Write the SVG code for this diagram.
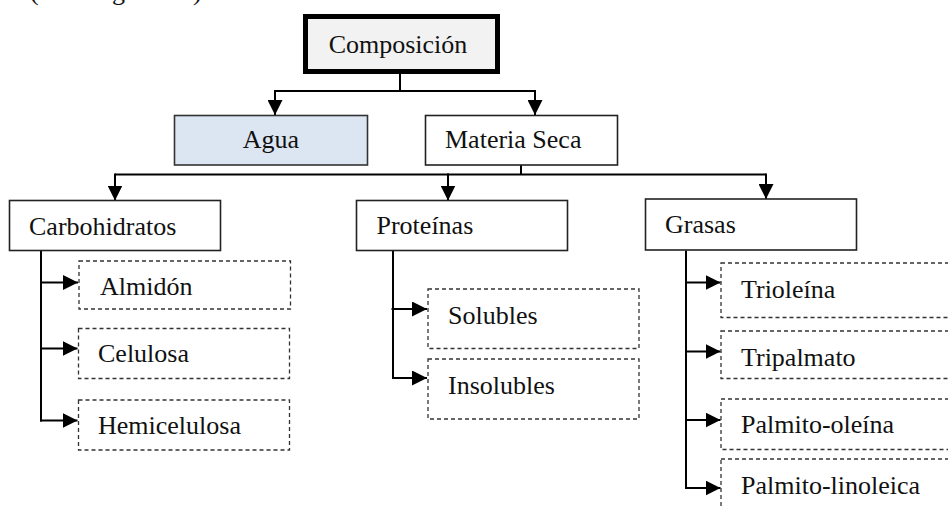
<svg xmlns="http://www.w3.org/2000/svg" width="948" height="506" viewBox="0 0 948 506">
<style>
text{font-family:'Liberation Serif','Times New Roman','DejaVu Serif',serif;font-size:26px;fill:#111}
.box{fill:#fff;stroke:#222;stroke-width:1.6}
.dash{fill:#fff;stroke:#333;stroke-width:1.3;stroke-dasharray:4 3}
.c{fill:none;stroke:#000;stroke-width:2}
.m{text-anchor:middle}
</style>
<defs>
<marker id="ah" viewBox="0 0 15 15" markerWidth="15" markerHeight="15" refX="15" refY="7.5" orient="auto" markerUnits="userSpaceOnUse">
<path d="M0,0 L15,7.5 L0,15 z" fill="#000"/>
</marker>
</defs>
<text id="frag" y="-0.5" font-family="Liberation Serif"><tspan x="30">(</tspan><tspan x="112">g</tspan><tspan x="193">)</tspan></text>
<g id="connectors">
<path class="c" d="M400,74 V91 M275,91 H535"/>
<path class="c" d="M275,90 V115" marker-end="url(#ah)"/>
<path class="c" d="M535,90 V115" marker-end="url(#ah)"/>
<path class="c" d="M521,165 V174.5 M115,174.5 H766"/>
<path class="c" d="M115,173.5 V200.5" marker-end="url(#ah)"/>
<path class="c" d="M448,173.5 V200.5" marker-end="url(#ah)"/>
<path class="c" d="M766,173.5 V199" marker-end="url(#ah)"/>
<path class="c" d="M41,251 V421.5"/>
<path class="c" d="M40,282.5 H78" marker-end="url(#ah)"/>
<path class="c" d="M40,348.5 H77.5" marker-end="url(#ah)"/>
<path class="c" d="M40,420.5 H77.5" marker-end="url(#ah)"/>
<path class="c" d="M393,251 V379"/>
<path class="c" d="M391.5,309 H427" marker-end="url(#ah)"/>
<path class="c" d="M392,378 H427" marker-end="url(#ah)"/>
<path class="c" d="M686,250.5 V489"/>
<path class="c" d="M685,282.5 H720.5" marker-end="url(#ah)"/>
<path class="c" d="M685,351.5 H720.5" marker-end="url(#ah)"/>
<path class="c" d="M685,420 H720.5" marker-end="url(#ah)"/>
<path class="c" d="M685,488 H720.5" marker-end="url(#ah)"/>
</g>
<g id="composicion">
<rect x="305.5" y="16.5" width="192" height="55" fill="#f2f2f2" stroke="#000" stroke-width="5"/>
<text class="m" x="398" y="53" font-family="Liberation Serif">Composición</text>
</g>
<g id="agua">
<rect x="174.5" y="115.5" width="193" height="49.5" fill="#dce6f2" stroke="#333" stroke-width="1.6"/>
<text class="m" x="271" y="148" font-family="Liberation Serif">Agua</text>
</g>
<g id="materia-seca">
<rect class="box" x="425.5" y="115.5" width="192" height="49.5"/>
<text x="445" y="148" font-family="Liberation Serif">Materia Seca</text>
</g>
<g id="carbohidratos">
<rect class="box" x="9.5" y="200.5" width="211" height="50"/>
<text x="29" y="234.5" font-family="Liberation Serif">Carbohidratos</text>
</g>
<g id="proteinas">
<rect class="box" x="356.5" y="200.5" width="211" height="50"/>
<text x="376.5" y="234" font-family="Liberation Serif">Proteínas</text>
</g>
<g id="grasas">
<rect class="box" x="645.5" y="199" width="211" height="51"/>
<text x="665" y="233" font-family="Liberation Serif">Grasas</text>
</g>
<g id="almidon">
<rect class="dash" x="79" y="261" width="211.5" height="48"/>
<text x="100" y="294.5" font-family="Liberation Serif">Almidón</text>
</g>
<g id="celulosa">
<rect class="dash" x="78.5" y="328.5" width="211" height="50"/>
<text x="98" y="362" font-family="Liberation Serif">Celulosa</text>
</g>
<g id="hemicelulosa">
<rect class="dash" x="78.5" y="400" width="211" height="50"/>
<text x="98" y="433.5" font-family="Liberation Serif">Hemicelulosa</text>
</g>
<g id="solubles">
<rect class="dash" x="428" y="289" width="211" height="59.5"/>
<text x="448" y="323.5" font-family="Liberation Serif">Solubles</text>
</g>
<g id="insolubles">
<rect class="dash" x="428" y="359" width="211" height="60"/>
<text x="448" y="394" font-family="Liberation Serif">Insolubles</text>
</g>
<g id="trioleina">
<rect class="dash" x="721" y="263" width="240" height="54.5"/>
<text x="741" y="298" font-family="Liberation Serif">Trioleína</text>
</g>
<g id="tripalmato">
<rect class="dash" x="721" y="331" width="240" height="47.5"/>
<text x="741" y="366" font-family="Liberation Serif">Tripalmato</text>
</g>
<g id="palmito-oleina">
<rect class="dash" x="721" y="399" width="240" height="50.5"/>
<text x="741" y="433" font-family="Liberation Serif">Palmito-oleína</text>
</g>
<g id="palmito-linoleica">
<rect class="dash" x="721" y="459" width="240" height="60"/>
<text x="741" y="493.5" font-family="Liberation Serif">Palmito-linoleica</text>
</g>
</svg>
